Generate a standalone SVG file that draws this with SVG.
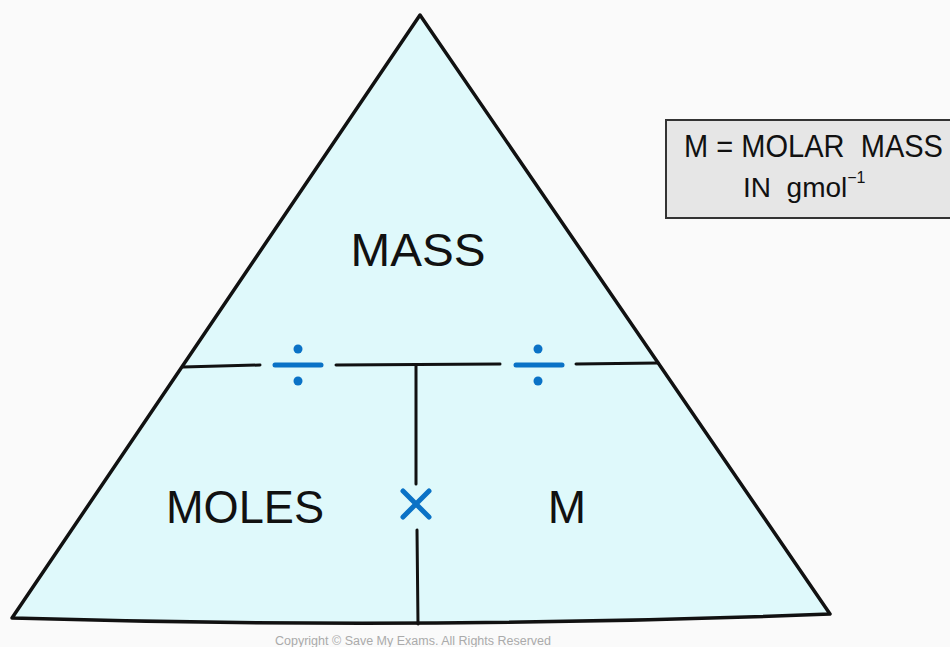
<svg xmlns="http://www.w3.org/2000/svg" width="950" height="647" viewBox="0 0 950 647">
<style>
.ln{stroke:#111;stroke-width:3;fill:none;stroke-linecap:round;stroke-linejoin:round}
.bl{stroke:#0a72c6;stroke-width:5;fill:none;stroke-linecap:round}
.dot{fill:#0a72c6}
.lbl{font-family:"Liberation Sans",Arial,sans-serif;fill:#111}
.pre{white-space:pre}
</style>
<rect width="950" height="647" fill="#fafafa"/>
<g id="triangle">
<path d="M420,15 L830,614 Q420,630 12,618 Z" fill="#dff9fb" stroke="#111" stroke-width="3.5" stroke-linejoin="round"/>
</g>
<g id="connectors">
<path class="ln" d="M183,367 L260,365"/>
<path class="ln" d="M336,365 L500,364"/>
<path class="ln" d="M576,364 L658,363"/>
<path class="ln" d="M416,365 L416,484"/>
<path class="ln" d="M417,530 L418,624"/>
</g>
<g id="div-left">
<path class="bl" d="M275,365 L321,365"/>
<circle class="dot" cx="298" cy="349" r="4.5"/>
<circle class="dot" cx="298" cy="381" r="4.5"/>
</g>
<g id="div-right">
<path class="bl" d="M516,365 L562,365"/>
<circle class="dot" cx="538" cy="349" r="4.5"/>
<circle class="dot" cx="538" cy="381" r="4.5"/>
</g>
<g id="times">
<path class="bl" d="M403,491 L429,517 M429,491 L403,517"/>
</g>
<g id="mass">
<text class="lbl" x="418" y="266" font-size="46" text-anchor="middle" textLength="135" lengthAdjust="spacingAndGlyphs">MASS</text>
</g>
<g id="moles">
<text class="lbl" x="245" y="523" font-size="46" text-anchor="middle" textLength="158" lengthAdjust="spacingAndGlyphs">MOLES</text>
</g>
<g id="m">
<text class="lbl" x="567" y="523" font-size="46" text-anchor="middle">M</text>
</g>
<g id="legend">
<rect x="666" y="120" width="290" height="98" fill="#e6e6e6" stroke="#333" stroke-width="2"/>
<text class="lbl pre" x="684" y="157" font-size="31" textLength="259" lengthAdjust="spacingAndGlyphs" xml:space="preserve">M = MOLAR  MASS</text>
<text class="lbl pre" x="743" y="197" font-size="28" xml:space="preserve">IN  gmol<tspan font-size="16" dy="-14">−1</tspan></text>
</g>
<text x="413" y="645" font-family="Liberation Sans,Arial,sans-serif" font-size="12.5" fill="#aaa" text-anchor="middle">Copyright © Save My Exams. All Rights Reserved</text>
</svg>
